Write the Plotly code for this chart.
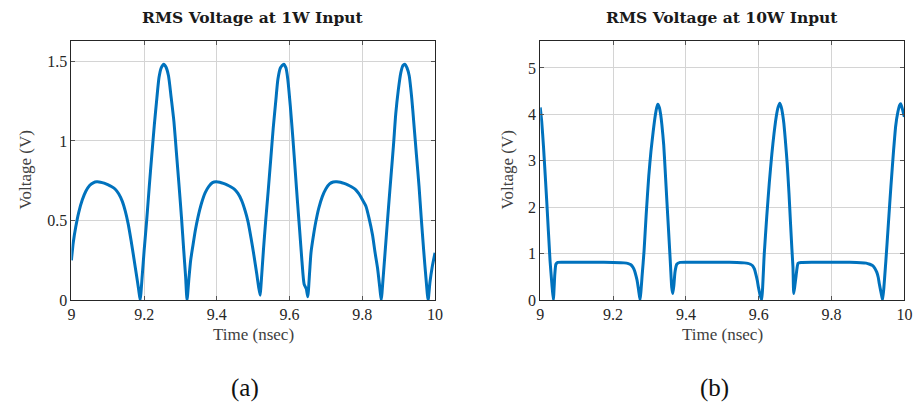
import plotly.graph_objects as go

# Panel (a): RMS voltage at 1 W input
time_1w = [
    9.000, 9.005, 9.012, 9.020, 9.030, 9.040, 9.050, 9.060, 9.070, 9.080,
    9.090, 9.100, 9.110, 9.120, 9.130, 9.140, 9.148, 9.156, 9.164, 9.172,
    9.179, 9.185, 9.189,
    9.195, 9.200, 9.207, 9.214, 9.221, 9.228, 9.235, 9.241, 9.247, 9.254,
    9.260, 9.267, 9.274, 9.282, 9.289, 9.296, 9.303, 9.309, 9.314, 9.318,
    9.323, 9.328, 9.334, 9.341, 9.348, 9.358, 9.368, 9.378, 9.388, 9.398,
    9.408, 9.418, 9.428, 9.438, 9.448, 9.458, 9.468, 9.478, 9.486, 9.494,
    9.502, 9.510, 9.515, 9.519,
    9.521, 9.528, 9.534, 9.541, 9.548, 9.555, 9.562, 9.568, 9.575, 9.584,
    9.590, 9.595, 9.602, 9.609, 9.616, 9.622, 9.628, 9.634, 9.640, 9.646,
    9.650,
    9.655, 9.659, 9.666, 9.672, 9.680, 9.690, 9.700, 9.710, 9.720, 9.730,
    9.740, 9.750, 9.760, 9.770, 9.780, 9.790, 9.800, 9.810, 9.818, 9.828,
    9.835, 9.842, 9.848, 9.852,
    9.858, 9.865, 9.872, 9.879, 9.886, 9.892, 9.899, 9.906, 9.912, 9.917,
    9.923, 9.929, 9.936, 9.942, 9.949, 9.956, 9.962, 9.969, 9.975, 9.981,
    9.986, 9.992, 10.000,
]
volt_1w = [
    0.25, 0.36, 0.46, 0.55, 0.63, 0.685, 0.72, 0.737, 0.743, 0.741,
    0.735, 0.726, 0.714, 0.698, 0.668, 0.62, 0.56, 0.48, 0.375, 0.26,
    0.155, 0.065, 0.0,
    0.16, 0.31, 0.50, 0.71, 0.91, 1.10, 1.27, 1.40, 1.46, 1.483,
    1.465, 1.41, 1.28, 1.12, 0.92, 0.72, 0.51, 0.31, 0.15, 0.0,
    0.13, 0.25, 0.34, 0.44, 0.52, 0.61, 0.675, 0.715, 0.738, 0.743,
    0.740, 0.733, 0.724, 0.712, 0.697, 0.670, 0.627, 0.56, 0.49, 0.39,
    0.28, 0.16, 0.08, 0.03,
    0.08, 0.31, 0.49, 0.68, 0.88, 1.08, 1.25, 1.39, 1.46, 1.483,
    1.46, 1.39, 1.22, 1.02, 0.80, 0.61, 0.43, 0.245, 0.10, 0.07,
    0.02,
    0.17, 0.30, 0.41, 0.49, 0.575, 0.65, 0.70, 0.73, 0.742, 0.743,
    0.740, 0.733, 0.724, 0.712, 0.697, 0.67, 0.632, 0.59, 0.52, 0.41,
    0.30, 0.20, 0.08, 0.0,
    0.16, 0.37, 0.58, 0.78, 0.98, 1.17, 1.32, 1.43, 1.475, 1.483,
    1.46, 1.41, 1.27, 1.105, 0.91, 0.716, 0.52, 0.307, 0.14, 0.0,
    0.11, 0.205, 0.297,
]

# Panel (b): RMS voltage at 10 W input
time_10w = [
    9.000, 9.004, 9.009, 9.018, 9.027, 9.032, 9.036, 9.040, 9.043, 9.048,
    9.060, 9.100, 9.150, 9.200, 9.230, 9.242, 9.249, 9.255, 9.259, 9.263,
    9.266, 9.270, 9.274, 9.280, 9.285, 9.291, 9.298, 9.304, 9.310, 9.316,
    9.320, 9.323, 9.327, 9.331, 9.334, 9.339, 9.343, 9.348, 9.352, 9.357,
    9.361, 9.364, 9.367, 9.370, 9.375, 9.384, 9.400, 9.450, 9.500, 9.540,
    9.560, 9.570, 9.577, 9.583, 9.588, 9.592, 9.596, 9.599, 9.604, 9.608,
    9.615, 9.622, 9.629, 9.636, 9.642, 9.648, 9.653, 9.658, 9.663, 9.666,
    9.669, 9.673, 9.678, 9.683, 9.687, 9.691, 9.694, 9.696, 9.699, 9.702,
    9.705, 9.708, 9.716, 9.750, 9.800, 9.850, 9.880, 9.895, 9.905, 9.913,
    9.919, 9.924, 9.928, 9.931, 9.936, 9.940, 9.949, 9.956, 9.963, 9.970,
    9.976, 9.982, 9.987, 9.990, 9.995, 9.999, 10.000,
]
volt_10w = [
    4.15, 3.85, 3.30, 2.11, 0.84, 0.35, 0.0, 0.55, 0.77, 0.81,
    0.815, 0.815, 0.813, 0.808, 0.80, 0.785, 0.76, 0.70, 0.63, 0.52,
    0.42, 0.22, 0.0, 0.55, 1.05, 1.85, 2.67, 3.20, 3.62, 3.98,
    4.15, 4.22, 4.15, 3.98, 3.78, 3.35, 2.81, 2.10, 1.55, 0.85,
    0.28, 0.14, 0.32, 0.60, 0.77, 0.81, 0.815, 0.815, 0.813, 0.808,
    0.80, 0.79, 0.77, 0.74, 0.67, 0.56, 0.42, 0.28, 0.10, 0.0,
    0.98, 1.80, 2.53, 3.15, 3.59, 3.95, 4.15, 4.24, 4.12, 3.98,
    3.80, 3.45, 2.95, 2.30, 1.69, 1.10, 0.70, 0.14, 0.30, 0.49,
    0.68, 0.79, 0.81, 0.815, 0.815, 0.812, 0.805, 0.795, 0.77, 0.74,
    0.68, 0.60, 0.49, 0.35, 0.15, 0.0, 0.84, 1.65, 2.46, 3.20,
    3.75, 4.05, 4.20, 4.23, 4.10, 3.97, 3.95,
]

x_ticks = [9, 9.2, 9.4, 9.6, 9.8, 10]
x_tick_text = ["9", "9.2", "9.4", "9.6", "9.8", "10"]
y_ticks_1w = [0, 0.5, 1, 1.5]
y_ticks_10w = [0, 1, 2, 3, 4, 5]

titles = ["RMS Voltage at 1W Input", "RMS Voltage at 10W Input"]
captions = ["(a)", "(b)"]
x_label = "Time (nsec)"
y_label = "Voltage (V)"

LINE_BLUE = "#0072BD"
SERIF = "Liberation Serif"
TITLE_FONT = "DejaVu Serif"
TEXT = "#262626"

fig = go.Figure()
fig.add_trace(go.Scatter(x=time_1w, y=volt_1w, mode="lines",
                         line=dict(color=LINE_BLUE, width=3,
                                   shape="spline", smoothing=0.6),
                         xaxis="x", yaxis="y", showlegend=False))
fig.add_trace(go.Scatter(x=time_10w, y=volt_10w, mode="lines",
                         line=dict(color=LINE_BLUE, width=3,
                                   shape="spline", smoothing=0.5),
                         xaxis="x2", yaxis="y2", showlegend=False))

W, H = 922, 412
left_dom = [68.3 / W, 436.7 / W]
right_dom = [543.3 / W, 912.3 / W]
y_dom = [(H - 306.7) / H, (H - 41.7) / H]

common_axis = dict(
    showline=True, linecolor="#262626", linewidth=1.1, mirror="allticks",
    ticks="inside", ticklen=4, tickcolor="#555555", tickwidth=1,
    showgrid=True, gridcolor="#d4d4d4", gridwidth=1,
    zeroline=False, tickfont=dict(family=SERIF, size=16, color=TEXT),
)

fig.update_layout(
    width=W, height=H,
    margin=dict(l=0, r=0, t=0, b=0),
    paper_bgcolor="white", plot_bgcolor="white",
    xaxis=dict(domain=left_dom, anchor="y", range=[9, 10],
               tickvals=x_ticks, ticktext=x_tick_text, **common_axis),
    yaxis=dict(domain=y_dom, anchor="x", range=[0, 1.63],
               tickvals=y_ticks_1w, ticktext=["0", "0.5", "1", "1.5"],
               **common_axis),
    xaxis2=dict(domain=right_dom, anchor="y2", range=[9, 10],
                tickvals=x_ticks, ticktext=x_tick_text, **common_axis),
    yaxis2=dict(domain=y_dom, anchor="x2", range=[0, 5.585],
                tickvals=y_ticks_10w, ticktext=[str(v) for v in y_ticks_10w],
                **common_axis),
)

annotations = []
for dom, title, cap in zip([left_dom, right_dom], titles, captions):
    cx = (dom[0] + dom[1]) / 2
    annotations.append(dict(text="<b>" + title + "</b>", x=cx, y=1 - 17.5 / H,
                            xref="paper", yref="paper", showarrow=False,
                            xanchor="center", yanchor="middle",
                            font=dict(family=TITLE_FONT, size=15.5, color="#1a1a1a")))
    annotations.append(dict(text=x_label, x=cx, y=1 - 341.5 / H,
                            xref="paper", yref="paper", showarrow=False,
                            xanchor="center", yanchor="middle",
                            font=dict(family=SERIF, size=17, color="#404040")))
    annotations.append(dict(text=cap, x=cx - 8 / W, y=1 - 397 / H,
                            xref="paper", yref="paper", showarrow=False,
                            xanchor="center", yanchor="middle",
                            font=dict(family=SERIF, size=25, color="#111111")))
ylab_x = [21.7, 510.0]
for xl in ylab_x:
    annotations.append(dict(text=y_label, x=xl / W, y=1 - 174 / H,
                            xref="paper", yref="paper", showarrow=False,
                            textangle=-90, xanchor="center", yanchor="middle",
                            font=dict(family=SERIF, size=17, color="#404040")))
fig.update_layout(annotations=annotations)

fig.write_html("out.html")
